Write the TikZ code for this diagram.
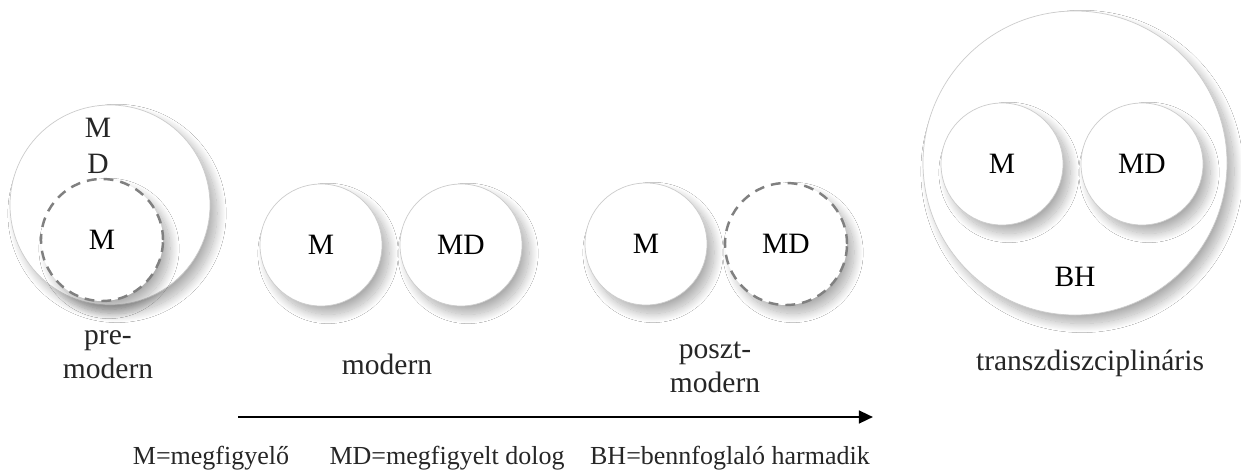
\documentclass[tikz,border=0pt]{standalone}
\usepackage{fontspec}
\setmainfont{Liberation Serif}
\usetikzlibrary{positioning,arrows.meta,shadows.blur}

\begin{document}
\begin{tikzpicture}[x=0.5mm, y=-0.5mm, node distance=7cm, inner sep=0pt,
    font=\fontsize{42}{48}\selectfont]
    \tikzstyle{kor}=[circle, draw=gray!40, line width=1pt, fill=white, minimum size=61mm,
        blur shadow={shadow xshift=10pt, shadow yshift=-12pt, shadow blur radius=13pt,
            shadow blur steps=20, shadow opacity=32}]
    \tikzstyle{szagg}=[kor, draw=black!50, line width=3.5pt, dash pattern=on 14pt off 10pt]
    \tikzstyle{felirat}=[align=center, text=black!85]
    \tikzstyle{jel}=[felirat, font=\fontsize{37}{42}\selectfont]
    \tikzstyle{nyil}=[-{Triangle[length=20pt,width=18pt]}, line width=3.5pt]

    \useasboundingbox[fill=white] (0,0) rectangle (1241,472);

    % premodern
    \node[kor, minimum size=100mm] (P) at (110,205) {};
    \node[szagg] (PM) at (102,240) {M};
    \node[felirat, font=\fontsize{42}{51}\selectfont] (PMD) at (98,146) {M\\D};
    \node[felirat] (Lpre) at (108,355) {pre-\\modern};

    % modern
    \node[kor] (MM) at (321,245) {M};
    \node[kor, right of=MM] (MMD) {MD};
    \node[felirat] (Lmod) at (387,364) {modern};

    % posztmodern
    \node[kor] (PoM) at (646,244) {M};
    \node[szagg, right of=PoM] (PoMD) {MD};
    \node[felirat] (Lposzt) at (715,367) {poszt-\\modern};

    % transzdiszciplinaris
    \node[kor, minimum size=152mm] (T) at (1075,163) {};
    \node[kor] (TM) at (1002,164) {M};
    \node[kor, right of=TM] (TMD) {MD};
    \node (BH) at (1075,277) {BH};
    \node[felirat] (Ltr) at (1090,363) {transzdiszciplináris};

    % ido
    \coordinate (A) at (238,417);
    \coordinate (B) at (873,417);
    \draw[nyil] (A) -- (B);

    % jelmagyarazat
    \node[jel] (J1) at (211,458) {M=megfigyelő};
    \node[jel] (J2) at (447,458) {MD=megfigyelt dolog};
    \node[jel] (J3) at (730,458) {BH=bennfoglaló harmadik};
\end{tikzpicture}
\end{document}
